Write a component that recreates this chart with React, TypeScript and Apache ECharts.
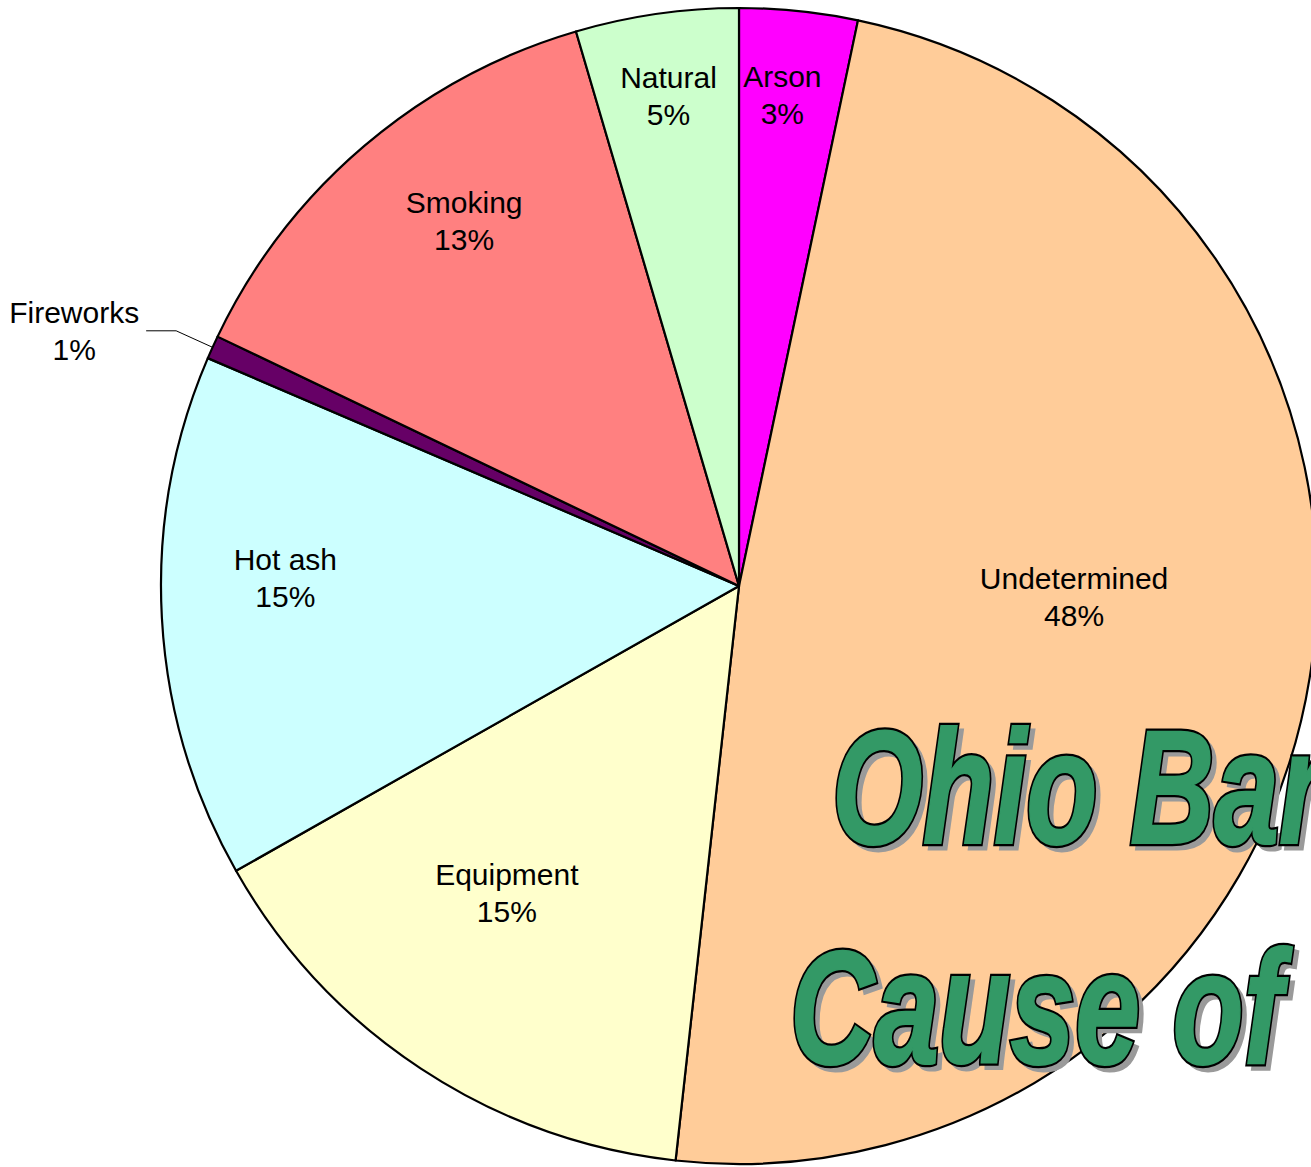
import React, { useEffect, useRef } from "react";
import * as echarts from "echarts";

const categories = ["Arson", "Undetermined", "Equipment", "Hot ash", "Fireworks", "Smoking", "Natural"];
const values = [3.3, 48.45, 15.05, 14.65, 0.65, 13.35, 4.55];
const colors = ["#FF00FF", "#FFCC99", "#FFFFCC", "#CCFFFF", "#660066", "#FF8080", "#CCFFCC"];
const titleLines = ["Ohio Barn Fires", "Cause of Fire"];

// label placement style (radius ratio and angular shift from slice mid-angle)
const labelRadiusRatio = [0.853, 0.58, 0.666, 0.785, 0, 0.79, 0.856];
const labelAngleShift = [-0.9, -7.2, 3.7, 4.1, 0, 3.4, 0];

const CX = 739;
const CY = 586;
const R = 578;

export default function App() {
  const ref = useRef<HTMLDivElement>(null);
  useEffect(() => {
    if (!ref.current) return;
    const chart = echarts.init(ref.current, null, { renderer: "svg" });
    const total = values.reduce((a, b) => a + b, 0);
    const mids: number[] = [];
    let acc = 0;
    values.forEach((v) => {
      const a0 = (acc / total) * 360;
      acc += v;
      const a1 = (acc / total) * 360;
      mids.push((a0 + a1) / 2);
    });

    const textStyleBase = {
      fontFamily: "Liberation Sans, Arial, sans-serif",
      fontSize: 30,
      lineHeight: 37,
      color: "#000",
    };

    const data = categories.map((name, i) => {
      const item: any = {
        name,
        value: values[i],
        itemStyle: { color: colors[i] },
      };
      if (name === "Fireworks") {
        item.label = {
          position: "outside",
          formatter: (p: any) => `{c|${p.name}}\n{c|${Math.round(p.percent)}%}`,
          rich: {
            c: { ...textStyleBase, width: 134, align: "center" },
          },
        };
        item.labelLine = {
          show: true,
          length: 40,
          length2: 30,
          lineStyle: { color: "#000", width: 1 },
        };
      }
      return item;
    });

    const titleLayer = (
      text: string,
      x: number,
      y: number,
      z: number,
      fill: string,
      stroke: string,
      lineWidth: number
    ) => ({
      type: "text",
      x,
      y,
      z,
      scaleX: 0.72,
      silent: true,
      style: {
        text,
        fontFamily: "Liberation Sans",
        fontWeight: "bold",
        fontStyle: "italic",
        fontSize: 162,
        fill,
        stroke,
        lineWidth,
        lineJoin: "round",
        textAlign: "left",
        textVerticalAlign: "middle",
      },
    });

    const titleGraphics = (text: string, x: number, y: number) => [
      titleLayer(text, x + 5, y + 5, 100, "#9a9a9a", "#9a9a9a", 5),
      titleLayer(text, x, y, 101, "#000", "#000", 6.5),
      titleLayer(text, x, y, 102, "#339966", "#339966", 2),
    ];

    chart.setOption({
      animation: false,
      backgroundColor: "#fff",
      series: [
        {
          type: "pie",
          z: 1,
          center: [CX, CY],
          radius: R,
          startAngle: 90,
          clockwise: true,
          avoidLabelOverlap: false,
          itemStyle: { borderColor: "#000", borderWidth: 2.2 },
          emphasis: { disabled: true },
          label: {
            show: true,
            position: "inside",
            ...textStyleBase,
            formatter: (p: any) => `${p.name}\n${Math.round(p.percent)}%`,
          },
          labelLine: { show: false },
          labelLayout: (params: any) => {
            const i = params.dataIndex;
            if (categories[i] === "Fireworks") return {};
            const ang = ((mids[i] + labelAngleShift[i]) * Math.PI) / 180;
            const rr = R * labelRadiusRatio[i];
            return {
              x: CX + rr * Math.sin(ang),
              y: CY - rr * Math.cos(ang),
              align: "center",
              verticalAlign: "middle",
            };
          },
          data,
        },
      ],
      graphic: [
        ...titleGraphics(titleLines[0], 832, 787),
        ...titleGraphics(titleLines[1], 790, 1007),
      ],
    });
    return () => chart.dispose();
  }, []);

  return (
    <div
      ref={ref}
      style={{ position: "fixed", left: 0, top: 0, width: 1311, height: 1167 }}
    />
  );
}
